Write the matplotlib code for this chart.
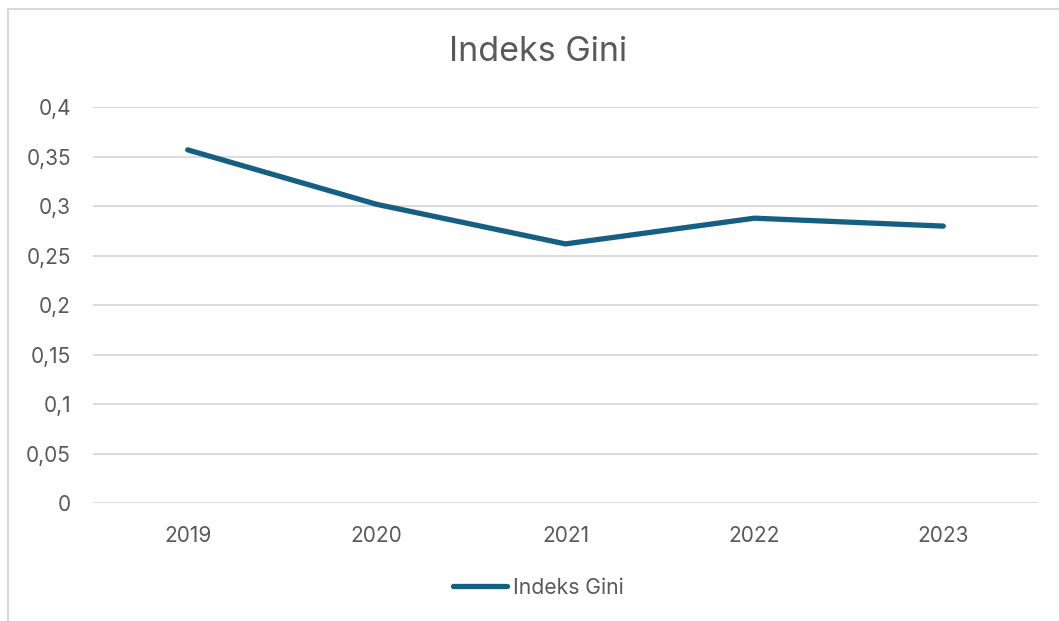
import matplotlib
matplotlib.use("Agg")
import matplotlib.pyplot as plt
from matplotlib.lines import Line2D
from matplotlib.ticker import FixedLocator, FuncFormatter

years = ["2019", "2020", "2021", "2022", "2023"]
gini = [0.357, 0.302, 0.262, 0.288, 0.280]
yticks = [0, 0.05, 0.1, 0.15, 0.2, 0.25, 0.3, 0.35, 0.4]
title = "Indeks Gini"
series_name = "Indeks Gini"

LINE = "#156082"
TEXT = "#595959"
GRID = "#d9d9d9"

plt.rcParams["font.family"] = ["Inter", "DejaVu Sans"]

W, H = 1059, 621
fig = plt.figure(figsize=(W / 100, H / 100), dpi=100)
fig.patch.set_facecolor("white")

ax = fig.add_axes([93.3 / W, 1 - 503.3 / H, (1037.7 - 93.3) / W, (503.3 - 107.3) / H])
x = list(range(len(years)))
ax.plot(x, gini, color=LINE, lw=3.8, solid_capstyle="round", solid_joinstyle="round",
        label=series_name, zorder=3)

ax.set_xlim(-0.5, len(years) - 0.5)
ax.set_ylim(0, 0.4)
ax.yaxis.set_major_locator(FixedLocator(yticks))
ax.yaxis.set_major_formatter(FuncFormatter(lambda v, p: ("%g" % v).replace(".", ",")))
ax.set_xticks(x)
ax.set_xticklabels(years)
ax.grid(axis="y", color=GRID, lw=1.3, zorder=0)
for s in ax.spines.values():
    s.set_visible(False)
ax.tick_params(axis="both", length=0, labelsize=15, colors=TEXT)
ax.tick_params(axis="y", pad=16)
ax.tick_params(axis="x", pad=16)

# chart area border (cropped at right/bottom)
fig.add_artist(Line2D([8.3 / W, 8.3 / W], [1 - 9 / H, -0.1], transform=fig.transFigure,
                      color=GRID, lw=1.5))
fig.add_artist(Line2D([8.3 / W, 1.1], [1 - 9 / H, 1 - 9 / H], transform=fig.transFigure,
                      color=GRID, lw=1.5))

fig.text(538.5 / W, 1 - 52 / H, title, ha="center", va="center", fontsize=24.5, color=TEXT)

leg = fig.legend(handles=ax.get_lines(), loc="center", bbox_to_anchor=(538 / W, 1 - 587.7 / H),
                 frameon=False, fontsize=15.2, handlelength=2.6, handletextpad=0.25,
                 labelcolor=TEXT)

fig.savefig("out.png", dpi=100)
